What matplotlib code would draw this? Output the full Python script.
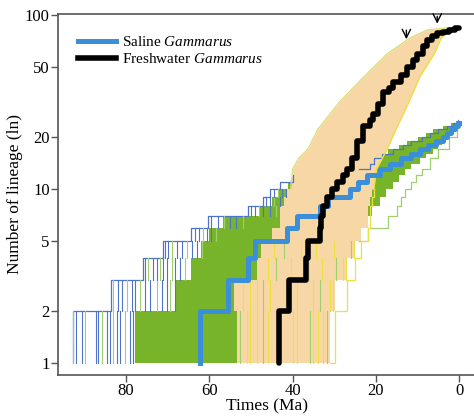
import matplotlib
matplotlib.use("Agg")
import matplotlib.pyplot as plt
from matplotlib.lines import Line2D

plt.rcParams['font.family'] = 'Liberation Serif'
plt.rcParams['mathtext.fontset'] = 'custom'
plt.rcParams['mathtext.rm'] = 'Liberation Serif'
plt.rcParams['mathtext.it'] = 'Liberation Serif:italic'

# observed trees: time (Ma) where lineage count steps up
sal_t = [62.2, 62.2, 55.5, 50.7, 49.0, 41.3, 38.9, 33.4, 31.5, 26.2, 24.2, 22.1, 19.0,
         16.6, 14.0, 11.5, 9.5, 7.5, 5.5, 4.0, 3.0, 2.0, 1.0, 0.3, 0.0]
sal_n = list(range(1, 25)) + [24]

fw_t = [43.2, 43.2, 40.8, 36.7, 36.2, 33.4, 33.2, 32.7, 31.7, 30.5, 29.3, 28.0, 26.9, 25.8,
        24.5, 23.0, 21.5, 20.6, 19.5, 18.2, 16.8, 15.8, 14.0, 12.5, 11.2, 10.1, 8.8, 7.7,
        6.5, 5.3, 3.8, 2.5, 1.0, 0.0]
fw_n = [1, 2, 3, 4, 5, 6, 7, 8, 9, 10, 11, 12, 13, 15, 19, 23, 25, 27, 31, 36, 38, 41, 45,
        50, 55, 60, 66, 72, 76, 79, 80, 82, 84, 84]

# saline posterior cloud (dense part)
sal_lvl = [1, 2, 3, 4, 5, 6, 7, 8, 9, 10, 11, 12, 13, 14, 15, 16, 17, 18, 19, 20, 21, 22,
           23, 24, 24.6]
sal_early = [77.8, 68.0, 64.5, 62.0, 60.0, 56.7, 48.0, 45.0, 43.5, 41.0, 37.0, 31.0, 25.0,
             21.5, 19.5, 17.0, 14.5, 12.5, 10.0, 8.0, 6.2, 4.0, 2.0, 0.8, 0.8]
sal_late = [40, 36, 32, 28, 26, 24.5, 21, 19, 17.5, 16, 14.5, 13, 11.5, 9.5, 8.0, 6.3,
            5.2, 4.2, 3.2, 2.3, 1.4, 0.5, 0.4, 0.3, 0.3]

# saline outer outline (earliest trees)
sal_out_lvl = [1, 2, 3, 4, 5, 6, 7, 8, 9, 10, 11]
sal_out_t = [92.8, 83.5, 75.9, 71.0, 64.3, 60.3, 50.7, 47.0, 45.4, 43.0, 40.0]
sal_up_lvl = [13, 14, 15, 16, 17, 18, 19, 20, 21, 22, 23, 24, 25]
sal_up_t = [24.0, 21.5, 20.5, 18.5, 16.0, 13.5, 11.5, 9.0, 7.0, 5.0, 3.0, 1.5, 0.3]
sal_low_lvl = [5, 6, 7, 8, 9, 10, 11, 12, 13, 15, 17, 20, 22]
sal_low_t = [24.0, 22.0, 17.0, 15.0, 14.0, 13.0, 11.5, 10.5, 9.0, 7.0, 5.0, 2.5, 0.5]

# saline streaks: (time, bottom count)
sal_streak_t = [92.8, 91.9, 90.6, 89.8, 87.2, 86.6, 85.8, 84.6, 83.8, 83.0, 82.2, 81.4, 80.2,
                79.0, 78.4,
                83.0, 81.9, 80.9, 79.7, 78.5, 77.8, 76.6, 75.4, 74.2, 72.5, 71.3, 70.2, 69.4,
                68.2,
                75.4, 74.7, 73.6, 72.5, 71.8, 71.1, 70.1, 68.9, 68.2, 67.0, 65.8,
                70.6, 69.9, 68.9, 67.7, 66.5, 65.3, 64.1, 62.9, 61.7,
                63.5, 62.5, 61.5, 60.5, 59.5, 58.5,
                59.5, 58.0, 56.5, 55.0, 53.5, 52.0,
                50.0, 49.0, 48.0, 47.0, 45.5, 44.0,
                46.5, 45.5, 44.5, 43.0,
                44.5, 43.5, 42.5, 41.5]
sal_streak_k = [1] * 15 + [2] * 14 + [3] * 11 + [4] * 9 + [5] * 6 + [6] * 6 + [7] * 6 + \
               [8] * 4 + [9] * 4

# freshwater posterior cloud
fw_lvl = [1, 2, 3, 4, 5, 6, 8, 9, 10, 13, 15, 17, 22, 32, 44, 60, 74, 82, 85]
fw_early = [53.3, 54.0, 48.5, 47.5, 45.0, 43.0, 42.0, 41.3, 40.5, 40.0, 38.6, 36.3, 34.0,
            28.6, 23.0, 17.3, 11.8, 7.7, 2.0]
fw_late = [31.0, 29.8, 27.0, 25.0, 23.5, 22.0, 21.4, 21.0, 20.5, 19.9, 18.5, 17.3, 15.2,
           12.0, 9.5, 6.0, 4.3, 2.0, 0.3]
fw_streak_t = [52.6, 50.9, 50.2, 48.5, 47.1, 45.9, 39.9, 38.9, 35.8, 35.1, 33.9, 32.7, 31.7,
               51.9, 50.2, 48.5, 47.1, 45.4, 38.9, 35.1, 33.4, 31.0, 30.3,
               46.0, 44.0, 40.5, 36.0, 33.0, 29.5, 28.0, 27.2,
               44.5, 42.0, 38.0, 34.5, 30.0, 26.0, 25.2]
fw_streak_k = [1] * 13 + [2] * 10 + [3] * 8 + [4] * 7

green = '#78b42a'
peach = '#f8d7a6'
yellow = '#ece043'
lgreen = '#9fcf6e'
oblue = '#4d74c9'

fig = plt.figure(figsize=(4.74, 4.18), dpi=100)
ax = fig.add_axes([0.1224, 0.1029, 0.88, 0.8636])

ax.fill_betweenx(sal_lvl, sal_early, sal_late, step='post', color=green, lw=0)
ax.step(sal_out_t[:1] + sal_out_t, [1] + [v + 1 for v in sal_out_lvl], where='post',
        color=oblue, lw=0.9)
ax.step(sal_up_t, sal_up_lvl, where='post', color=oblue, lw=0.9)
ax.step(sal_low_t, sal_low_lvl, where='post', color=lgreen, lw=0.9)
for i, (t, k) in enumerate(zip(sal_streak_t, sal_streak_k)):
    ax.plot([t, t], [k, k + 1], color=oblue if i % 3 else lgreen, lw=0.8)

ax.fill_betweenx(fw_lvl[:9], fw_early[:9], fw_late[:9], step='post', color=peach, lw=0)
ax.fill_betweenx(fw_lvl[8:], fw_early[8:], fw_late[8:], color=peach, lw=0)
ax.plot(fw_late[8:], fw_lvl[8:], color=yellow, lw=1.0)
ax.plot(fw_early[8:], fw_lvl[8:], color='#d8dc6a', lw=0.8)
ax.step(fw_late[:9], fw_lvl[:9], where='post', color=yellow, lw=0.9)
for i, (t, k) in enumerate(zip(fw_streak_t, fw_streak_k)):
    ax.plot([t, t], [k, k + 1], color=yellow if i % 4 else lgreen, lw=0.8)

ax.step(sal_t, sal_n, where='post', color='#3a8fd8', lw=3.6)
ax.step(fw_t, fw_n, where='post', color='black', lw=4.0, solid_capstyle='round')

arrow = dict(arrowstyle='->, head_length=0.6, head_width=0.3', color='black', lw=1.0)
ax.annotate('', xy=(12.7, 70), xytext=(12.7, 85), arrowprops=arrow)
ax.annotate('', xy=(5.3, 86), xytext=(5.3, 102), arrowprops=arrow)

ax.set_yscale('log')
ax.set_xlim(96.3, -3.8)
ax.set_ylim(0.853, 101.4)
ax.set_yticks([1, 2, 5, 10, 20, 50, 100])
ax.set_yticklabels(['1', '2', '5', '10', '20', '50', '100'])
ax.minorticks_off()
ax.set_xticks([80, 60, 40, 20, 0])
ax.tick_params(direction='out', length=5, width=1, color='#555555', labelsize=12, pad=1)
for s in ['left', 'top', 'bottom']:
    ax.spines[s].set_color('#555555')
    ax.spines[s].set_linewidth(1.2)
ax.spines['right'].set_visible(False)
ax.set_xlabel('Times (Ma)', fontsize=12.5, labelpad=-1)
ax.set_ylabel('Number of lineage (ln)', fontsize=12.5, labelpad=1)

handles = [Line2D([], [], color='#3a8fd8', lw=3.6), Line2D([], [], color='black', lw=4.0)]
ax.legend(handles, ['Saline $\\mathit{Gammarus}$', 'Freshwater $\\mathit{Gammarus}$'],
          loc='upper left', bbox_to_anchor=(0.015, 0.98), frameon=False, fontsize=11,
          handlelength=2.5, handletextpad=0.4, labelspacing=0.22)

fig.savefig('out.png', dpi=100)
